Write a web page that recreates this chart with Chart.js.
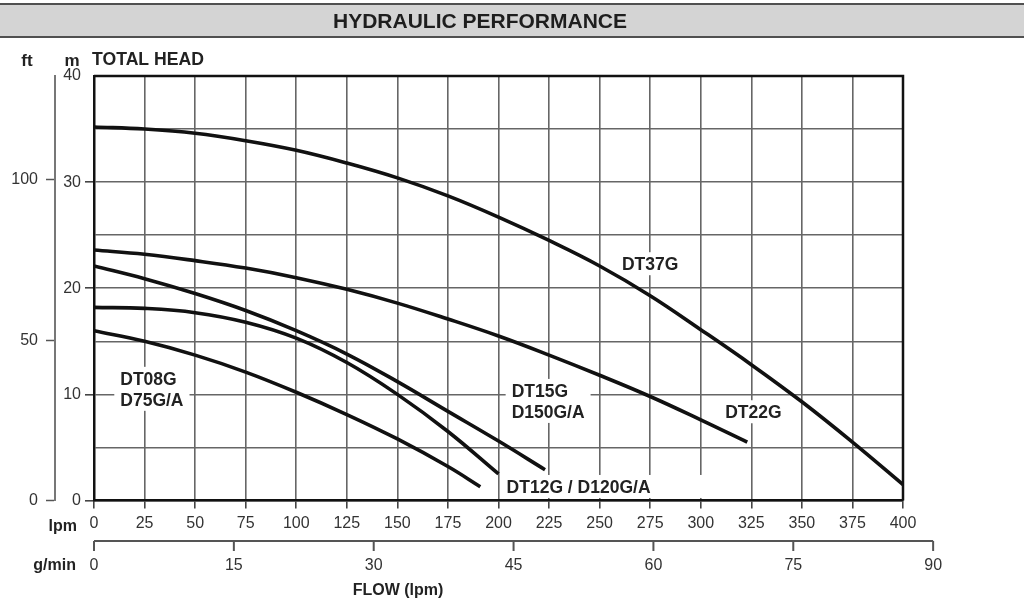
<!DOCTYPE html>
<html>
<head>
<meta charset="utf-8">
<script src="https://cdn.jsdelivr.net/npm/chart.js@4.4.1/dist/chart.umd.min.js"></script>
<style>
  html, body { margin: 0; padding: 0; background: #fff; overflow: hidden; }
  canvas { display: block; }
</style>
</head>
<body>
<canvas id="chart" width="1024" height="602"></canvas>
<script>
// ── curve data: flow (lpm) -> total head (m) ──
const flowDT37G = [0, 25, 50, 75, 100, 125, 150, 175, 200, 225, 250, 275, 300, 325, 350, 375, 400];
const headDT37G = [35.2, 35.0, 34.6, 33.9, 33.0, 31.8, 30.4, 28.7, 26.7, 24.5, 22.1, 19.3, 16.1, 12.8, 9.3, 5.5, 1.5];

const flowDT22G = [0, 25, 50, 75, 100, 125, 150, 175, 200, 225, 250, 275, 300, 323];
const headDT22G = [23.6, 23.2, 22.6, 21.9, 21.0, 19.9, 18.6, 17.1, 15.5, 13.7, 11.8, 9.8, 7.6, 5.5];

const flowDT15G = [0, 25, 50, 75, 100, 125, 150, 175, 200, 223];
const headDT15G = [22.1, 20.9, 19.5, 17.9, 16.0, 13.8, 11.2, 8.4, 5.6, 2.9];

const flowDT12G = [0, 25, 50, 75, 100, 125, 150, 175, 200];
const headDT12G = [18.2, 18.1, 17.7, 16.8, 15.3, 13.0, 10.0, 6.5, 2.5];

const flowDT08G = [0, 25, 50, 75, 100, 125, 150, 175, 191];
const headDT08G = [16.0, 15.0, 13.7, 12.1, 10.2, 8.1, 5.8, 3.2, 1.3];

// secondary axes, as drawn on the sheet
const gpmTicks = [0, 15, 30, 45, 60, 75, 90];
const LPM_PER_GPM = 4.61;
const FT_PER_M = 3.31;

// curve captions: flow / head of first line's baseline
const captions = [
  { lines: ['DT37G'], flow: 275, head: 21.7, align: 'center' },
  { lines: ['DT22G'], flow: 326, head: 7.75, align: 'center' },
  { lines: ['DT15G', 'D150G/A'], flow: 206.5, head: 9.76, align: 'left' },
  { lines: ['DT12G / D120G/A'], flow: 204, head: 0.71, align: 'left', padRight: 56 },
  { lines: ['DT08G', 'D75G/A'], flow: 13, head: 10.9, align: 'left' }
];

const FONT = '"Liberation Sans", Arial, Helvetica, sans-serif';
const toPts = (fl, hd) => fl.map((f, i) => ({ x: f, y: hd[i] }));

function fitText(c, text, x, y, width) {
  const w = c.measureText(text).width;
  c.save();
  c.translate(x, y);
  c.scale(width / w, 1);
  c.textAlign = 'center';
  c.fillText(text, 0, 0);
  c.restore();
}

const sheet = {
  id: 'sheet',
  beforeDraw(chart) {
    const c = chart.ctx;
    c.save();
    c.fillStyle = '#fff';
    c.fillRect(0, 0, chart.width, chart.height);
    // title band
    c.fillStyle = '#d4d4d4';
    c.fillRect(0, 4, chart.width, 33);
    c.strokeStyle = '#505050';
    c.lineWidth = 2;
    c.beginPath();
    c.moveTo(0, 4); c.lineTo(chart.width, 4);
    c.moveTo(0, 37); c.lineTo(chart.width, 37);
    c.stroke();
    c.fillStyle = '#1e1e1e';
    c.font = 'bold 21px ' + FONT;
    c.textBaseline = 'alphabetic';
    fitText(c, 'HYDRAULIC PERFORMANCE', 480, 28, 294);
    c.restore();
  },
  beforeDatasetsDraw(chart) {
    const c = chart.ctx;
    const xs = chart.scales.x, ys = chart.scales.y;
    c.save();
    c.font = 'bold 17.5px ' + FONT;
    c.textBaseline = 'alphabetic';
    captions.forEach(cp => {
      const px = xs.getPixelForValue(cp.flow);
      const py = ys.getPixelForValue(cp.head);
      const lh = 21;
      const widths = cp.lines.map(t => c.measureText(t).width);
      const wMax = Math.max(...widths);
      const left = cp.align === 'center' ? px - wMax / 2 : px;
      const top = py - 13;
      const bottom = py + (cp.lines.length - 1) * lh + 1;
      c.fillStyle = '#fff';
      c.fillRect(left - 6, top - 5, wMax + 12 + (cp.padRight || 0), bottom - top + 9);
      c.fillStyle = '#222';
      c.textAlign = cp.align;
      cp.lines.forEach((t, i) => c.fillText(t, px, py + i * lh));
    });
    c.restore();
  },
  afterDraw(chart) {
    const c = chart.ctx;
    const a = chart.chartArea;
    const xs = chart.scales.x;
    c.save();
    // top and right frame
    c.strokeStyle = '#111';
    c.lineWidth = 2.5;
    c.beginPath();
    c.moveTo(a.left, a.top); c.lineTo(a.right, a.top); c.lineTo(a.right, a.bottom);
    c.stroke();

    // g/min axis under the lpm axis
    const gy = 541;
    c.strokeStyle = '#555';
    c.lineWidth = 2;
    c.beginPath();
    c.moveTo(xs.getPixelForValue(0), gy);
    c.lineTo(xs.getPixelForValue(gpmTicks[gpmTicks.length - 1] * LPM_PER_GPM), gy);
    gpmTicks.forEach(g => {
      const px = xs.getPixelForValue(g * LPM_PER_GPM);
      c.moveTo(px, gy); c.lineTo(px, gy + 10);
    });
    c.stroke();
    c.fillStyle = '#333';
    c.font = '16px ' + FONT;
    c.textAlign = 'center';
    c.textBaseline = 'alphabetic';
    gpmTicks.forEach(g => c.fillText(String(g), xs.getPixelForValue(g * LPM_PER_GPM), 570));

    // axis captions
    c.fillStyle = '#222';
    c.font = 'bold 16px ' + FONT;
    c.textAlign = 'right';
    c.fillText('lpm', 77, 531);
    c.fillText('g/min', 76, 570);
    c.textAlign = 'center';
    c.fillText('FLOW (lpm)', 398, 595);
    c.font = 'bold 17px ' + FONT;
    c.fillText('ft', 27, 66);
    c.fillText('m', 72, 66);
    c.textAlign = 'left';
    c.font = 'bold 18px ' + FONT;
    const w = c.measureText('TOTAL HEAD').width;
    c.translate(92, 65);
    c.scale(112 / w, 1);
    c.fillText('TOTAL HEAD', 0, 0);
    c.restore();
  }
};

const curve = (label, fl, hd) => ({
  label,
  data: toPts(fl, hd),
  borderColor: '#111',
  borderWidth: 3.6,
  pointRadius: 0,
  fill: false,
  tension: 0.4
});

new Chart(document.getElementById('chart'), {
  type: 'line',
  data: {
    datasets: [
      curve('DT37G', flowDT37G, headDT37G),
      curve('DT22G', flowDT22G, headDT22G),
      curve('DT15G / D150G/A', flowDT15G, headDT15G),
      curve('DT12G / D120G/A', flowDT12G, headDT12G),
      curve('DT08G / D75G/A', flowDT08G, headDT08G)
    ]
  },
  options: {
    responsive: false,
    animation: false,
    layout: { padding: { left: 0, top: 76, right: 121, bottom: 0 } },
    plugins: { legend: { display: false }, tooltip: { enabled: false } },
    scales: {
      x: {
        type: 'linear', position: 'bottom', min: 0, max: 400,
        afterFit: s => { s.height = 101.5; },
        ticks: { stepSize: 25, autoSkip: false, maxRotation: 0, color: '#333', padding: 5, font: { family: FONT, size: 16 } },
        grid: { color: '#666', lineWidth: 1.6, tickLength: 8, tickColor: '#444' },
        border: { color: '#111', width: 2.5 }
      },
      y: {
        type: 'linear', position: 'left', weight: 0, min: 0, max: 40,
        afterFit: s => { s.width = 39; },
        ticks: {
          stepSize: 5, color: '#333', padding: 4, font: { family: FONT, size: 16 },
          callback: v => (v % 10 === 0 ? String(v) : '')
        },
        grid: {
          color: '#666', lineWidth: 1.6, tickLength: 9,
          tickColor: ctx => (ctx.tick && ctx.tick.value % 10 === 0 && ctx.tick.value < 40 ? '#444' : 'rgba(0,0,0,0)')
        },
        border: { color: '#111', width: 2.5 }
      },
      ft: {
        type: 'linear', position: 'left', weight: 1, min: 0, max: 40 * FT_PER_M,
        afterFit: s => { s.width = 55; },
        ticks: { stepSize: 50, includeBounds: false, color: '#333', padding: 8, font: { family: FONT, size: 16 } },
        grid: { drawOnChartArea: false, tickLength: 9, tickColor: '#555', tickWidth: 1.5 },
        border: { color: '#777', width: 2 }
      }
    }
  },
  plugins: [sheet]
});
</script>
</body>
</html>
